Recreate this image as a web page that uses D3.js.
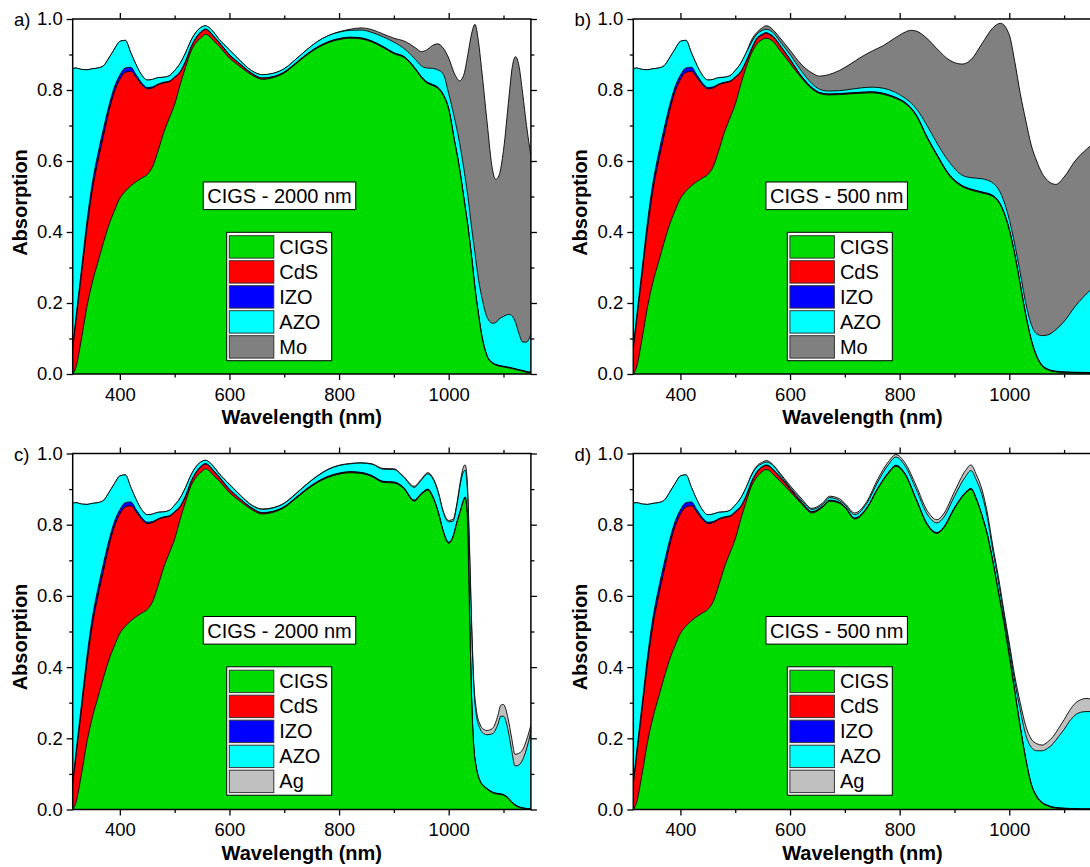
<!DOCTYPE html>
<html><head><meta charset="utf-8">
<script src="https://cdn.jsdelivr.net/npm/d3@7"></script>
<style>
body{margin:0;background:#fff}
svg{display:block}
text{font-family:"Liberation Sans",Arial,Helvetica,sans-serif;fill:#000}
</style>
</head><body>
<svg id="chart" width="1090" height="867"></svg>
<script>
// ---------- axis ticks ----------
const xTicksMajor = [400, 600, 800, 1000];
const xTicksMinor = [500, 700, 900, 1100];
const yTicksMajor = [0, 0.2, 0.4, 0.6, 0.8, 1.0];
const yTicksMinor = [0.1, 0.3, 0.5, 0.7, 0.9];
const xDomain = [314, 1150];

// ---------- layers ----------
const namesMo = ["CIGS", "CdS", "IZO", "AZO", "Mo"];
const namesAg = ["CIGS", "CdS", "IZO", "AZO", "Ag"];
const colorsMo = ["#00dc00", "#ff0000", "#0000ff", "#00ffff", "#808080"];
const colorsAg = ["#00dc00", "#ff0000", "#0000ff", "#00ffff", "#c0c0c0"];

// ---------- common UV part (cumulative tops of each layer) ----------
const frontWl   = [314, 320, 330, 340, 350, 360, 370, 380, 390, 400, 410, 420, 430, 440, 450, 460, 470, 480, 490, 500, 510, 520];
const frontCIGS = [0.0, 0.02, 0.1, 0.19, 0.26, 0.315, 0.37, 0.42, 0.46, 0.495, 0.515, 0.53, 0.542, 0.552, 0.562, 0.585, 0.63, 0.68, 0.72, 0.76, 0.815, 0.865];
const frontCdS  = [0.07, 0.15, 0.28, 0.41, 0.52, 0.6, 0.67, 0.74, 0.795, 0.83, 0.85, 0.853, 0.835, 0.815, 0.803, 0.806, 0.815, 0.82, 0.823, 0.835, 0.85, 0.88];
const frontIZO  = [0.075, 0.16, 0.295, 0.43, 0.54, 0.62, 0.69, 0.755, 0.808, 0.842, 0.862, 0.864, 0.842, 0.82, 0.807, 0.809, 0.817, 0.822, 0.825, 0.837, 0.852, 0.882];
const frontAZO  = [0.86, 0.862, 0.858, 0.857, 0.86, 0.862, 0.868, 0.89, 0.915, 0.937, 0.94, 0.905, 0.87, 0.842, 0.828, 0.83, 0.835, 0.836, 0.84, 0.855, 0.875, 0.905];
const frontBack = [0.86, 0.862, 0.858, 0.857, 0.86, 0.862, 0.868, 0.89, 0.915, 0.937, 0.94, 0.905, 0.87, 0.842, 0.828, 0.83, 0.835, 0.836, 0.84, 0.855, 0.875, 0.905];

// ---------- a) CIGS 2000 nm, Mo back contact ----------
const wlA   = [530, 540, 550, 556, 560, 570, 580, 600, 620, 640, 660, 680, 700, 720, 740, 760, 780, 800, 820, 840, 860, 880, 900, 920, 940, 950, 960, 970, 980, 990, 1000, 1010, 1020, 1028, 1035, 1042, 1048, 1054, 1060, 1070, 1080, 1086, 1092, 1100, 1110, 1116, 1122, 1128, 1135, 1142, 1150];
const cigsA = [0.91, 0.935, 0.95, 0.957, 0.955, 0.94, 0.925, 0.89, 0.865, 0.843, 0.83, 0.835, 0.848, 0.872, 0.897, 0.918, 0.933, 0.942, 0.946, 0.944, 0.935, 0.92, 0.902, 0.89, 0.856, 0.835, 0.82, 0.813, 0.805, 0.785, 0.745, 0.66, 0.575, 0.49, 0.415, 0.325, 0.24, 0.17, 0.11, 0.05, 0.03, 0.025, 0.022, 0.02, 0.017, 0.015, 0.013, 0.01, 0.008, 0.005, 0.003];
const cdsA  = [0.92, 0.948, 0.965, 0.97, 0.968, 0.952, 0.935, 0.898, 0.871, 0.847, 0.833, 0.837, 0.85, 0.874, 0.899, 0.92, 0.935, 0.944, 0.948, 0.946, 0.937, 0.922, 0.904, 0.892, 0.858, 0.837, 0.822, 0.815, 0.807, 0.787, 0.747, 0.662, 0.577, 0.492, 0.417, 0.327, 0.242, 0.172, 0.112, 0.051, 0.031, 0.026, 0.023, 0.021, 0.018, 0.016, 0.014, 0.011, 0.009, 0.006, 0.004];
const izoA  = [0.922, 0.95, 0.967, 0.972, 0.97, 0.954, 0.937, 0.9, 0.873, 0.848, 0.834, 0.838, 0.851, 0.875, 0.9, 0.921, 0.936, 0.945, 0.949, 0.947, 0.938, 0.923, 0.905, 0.893, 0.859, 0.838, 0.823, 0.816, 0.808, 0.788, 0.748, 0.663, 0.578, 0.493, 0.418, 0.328, 0.243, 0.173, 0.113, 0.052, 0.032, 0.027, 0.024, 0.022, 0.019, 0.017, 0.015, 0.012, 0.01, 0.007, 0.005];
const azoA  = [0.94, 0.965, 0.978, 0.981, 0.979, 0.965, 0.945, 0.913, 0.882, 0.855, 0.843, 0.847, 0.86, 0.885, 0.912, 0.936, 0.953, 0.963, 0.968, 0.969, 0.962, 0.95, 0.935, 0.915, 0.885, 0.868, 0.862, 0.861, 0.857, 0.845, 0.79, 0.725, 0.65, 0.575, 0.5, 0.41, 0.34, 0.27, 0.22, 0.16, 0.143, 0.145, 0.155, 0.162, 0.168, 0.163, 0.145, 0.115, 0.09, 0.09, 0.112];
const moA   = [0.94, 0.965, 0.978, 0.981, 0.979, 0.965, 0.945, 0.913, 0.882, 0.855, 0.843, 0.847, 0.86, 0.885, 0.912, 0.936, 0.953, 0.964, 0.971, 0.975, 0.97, 0.958, 0.946, 0.937, 0.918, 0.908, 0.913, 0.925, 0.93, 0.918, 0.89, 0.848, 0.826, 0.845, 0.9, 0.96, 0.985, 0.94, 0.86, 0.71, 0.575, 0.548, 0.56, 0.63, 0.78, 0.865, 0.894, 0.87, 0.79, 0.7, 0.615];

// ---------- b) CIGS 500 nm, Mo back contact ----------
const wlB   = [530, 540, 550, 556, 560, 570, 580, 600, 620, 640, 654, 670, 690, 710, 730, 750, 770, 790, 810, 820, 830, 850, 870, 890, 914, 930, 950, 970, 984, 1000, 1010, 1020, 1030, 1040, 1050, 1060, 1070, 1085, 1100, 1120, 1150];
const cigsB = [0.905, 0.93, 0.943, 0.946, 0.945, 0.935, 0.915, 0.875, 0.835, 0.803, 0.79, 0.786, 0.787, 0.789, 0.791, 0.792, 0.788, 0.778, 0.762, 0.748, 0.728, 0.665, 0.61, 0.56, 0.528, 0.518, 0.51, 0.5, 0.475, 0.405, 0.335, 0.25, 0.165, 0.095, 0.048, 0.022, 0.012, 0.006, 0.004, 0.003, 0.002];
const cdsB  = [0.915, 0.945, 0.955, 0.96, 0.958, 0.948, 0.928, 0.885, 0.84, 0.806, 0.792, 0.788, 0.789, 0.791, 0.793, 0.794, 0.79, 0.78, 0.764, 0.75, 0.73, 0.667, 0.612, 0.562, 0.53, 0.52, 0.512, 0.502, 0.477, 0.407, 0.337, 0.252, 0.167, 0.097, 0.05, 0.024, 0.013, 0.007, 0.005, 0.004, 0.003];
const izoB  = [0.918, 0.947, 0.958, 0.962, 0.96, 0.95, 0.93, 0.887, 0.841, 0.807, 0.793, 0.789, 0.79, 0.792, 0.794, 0.795, 0.791, 0.781, 0.765, 0.751, 0.731, 0.668, 0.613, 0.563, 0.531, 0.521, 0.513, 0.503, 0.478, 0.408, 0.338, 0.253, 0.168, 0.098, 0.051, 0.025, 0.014, 0.008, 0.006, 0.005, 0.004];
const azoB  = [0.935, 0.958, 0.968, 0.971, 0.97, 0.96, 0.94, 0.9, 0.855, 0.818, 0.802, 0.797, 0.798, 0.802, 0.806, 0.808, 0.805, 0.795, 0.777, 0.765, 0.748, 0.7, 0.645, 0.598, 0.56, 0.553, 0.55, 0.538, 0.51, 0.435, 0.365, 0.285, 0.2, 0.14, 0.113, 0.108, 0.11, 0.125, 0.148, 0.19, 0.24];
const moB   = [0.942, 0.963, 0.976, 0.981, 0.98, 0.968, 0.95, 0.912, 0.873, 0.848, 0.839, 0.843, 0.855, 0.873, 0.893, 0.91, 0.925, 0.945, 0.963, 0.968, 0.966, 0.945, 0.913, 0.885, 0.873, 0.885, 0.93, 0.975, 0.988, 0.955, 0.88, 0.79, 0.715, 0.645, 0.6, 0.565, 0.545, 0.534, 0.555, 0.6, 0.645];

// ---------- c) CIGS 2000 nm, Ag back contact ----------
const wlC   = [530, 540, 550, 556, 560, 570, 580, 600, 620, 640, 660, 680, 700, 720, 740, 760, 780, 800, 820, 840, 860, 880, 900, 917, 937, 950, 962, 970, 981, 990, 1000, 1008, 1015, 1022, 1026, 1030, 1034, 1038, 1042, 1046, 1050, 1057, 1064, 1070, 1080, 1090, 1095, 1100, 1108, 1115, 1121, 1128, 1135, 1142, 1150];
const cigsC = [0.91, 0.935, 0.95, 0.957, 0.955, 0.94, 0.925, 0.89, 0.865, 0.843, 0.83, 0.835, 0.848, 0.872, 0.897, 0.918, 0.933, 0.942, 0.946, 0.944, 0.935, 0.919, 0.917, 0.903, 0.866, 0.885, 0.897, 0.88, 0.833, 0.78, 0.748, 0.765, 0.805, 0.84, 0.862, 0.875, 0.82, 0.55, 0.3, 0.17, 0.12, 0.08, 0.065, 0.057, 0.047, 0.043, 0.042, 0.04, 0.032, 0.02, 0.012, 0.006, 0.003, 0.001, 0.0];
const cdsC  = [0.92, 0.948, 0.965, 0.97, 0.968, 0.952, 0.935, 0.898, 0.871, 0.847, 0.833, 0.837, 0.85, 0.874, 0.899, 0.92, 0.935, 0.944, 0.948, 0.946, 0.937, 0.921, 0.919, 0.905, 0.868, 0.887, 0.899, 0.882, 0.835, 0.782, 0.75, 0.767, 0.807, 0.842, 0.864, 0.877, 0.822, 0.552, 0.302, 0.171, 0.121, 0.081, 0.066, 0.058, 0.048, 0.044, 0.043, 0.041, 0.033, 0.021, 0.013, 0.007, 0.004, 0.002, 0.001];
const izoC  = [0.922, 0.95, 0.967, 0.972, 0.97, 0.954, 0.937, 0.9, 0.872, 0.848, 0.834, 0.838, 0.851, 0.875, 0.9, 0.921, 0.936, 0.945, 0.949, 0.947, 0.938, 0.922, 0.92, 0.906, 0.869, 0.888, 0.9, 0.883, 0.836, 0.783, 0.751, 0.768, 0.808, 0.843, 0.865, 0.878, 0.823, 0.553, 0.303, 0.172, 0.122, 0.082, 0.067, 0.059, 0.049, 0.045, 0.044, 0.042, 0.034, 0.022, 0.014, 0.008, 0.005, 0.003, 0.002];
const azoC  = [0.94, 0.965, 0.978, 0.981, 0.979, 0.965, 0.945, 0.913, 0.882, 0.855, 0.843, 0.847, 0.86, 0.885, 0.912, 0.936, 0.955, 0.966, 0.971, 0.973, 0.97, 0.956, 0.955, 0.935, 0.905, 0.925, 0.943, 0.932, 0.89, 0.835, 0.808, 0.81, 0.855, 0.92, 0.945, 0.953, 0.9, 0.72, 0.5, 0.34, 0.27, 0.228, 0.213, 0.21, 0.213, 0.24, 0.262, 0.262, 0.225, 0.165, 0.122, 0.125, 0.14, 0.17, 0.22];
const agC   = [0.94, 0.965, 0.978, 0.981, 0.979, 0.966, 0.946, 0.914, 0.883, 0.856, 0.844, 0.848, 0.861, 0.886, 0.913, 0.937, 0.956, 0.967, 0.972, 0.974, 0.971, 0.958, 0.957, 0.937, 0.908, 0.928, 0.946, 0.935, 0.893, 0.838, 0.812, 0.815, 0.86, 0.928, 0.958, 0.968, 0.92, 0.74, 0.52, 0.355, 0.285, 0.24, 0.225, 0.222, 0.228, 0.265, 0.293, 0.295, 0.258, 0.2, 0.155, 0.158, 0.168, 0.195, 0.237];

// ---------- d) CIGS 500 nm, Ag back contact ----------
const wlD   = [530, 540, 550, 556, 560, 570, 580, 600, 620, 640, 660, 672, 690, 700, 718, 740, 760, 780, 793, 810, 830, 850, 868, 880, 900, 920, 930, 940, 950, 960, 970, 980, 990, 1000, 1010, 1020, 1030, 1040, 1050, 1060, 1070, 1080, 1090, 1100, 1110, 1120, 1130, 1140, 1150];
const cigsD = [0.91, 0.935, 0.95, 0.955, 0.954, 0.94, 0.925, 0.893, 0.86, 0.833, 0.85, 0.866, 0.86, 0.848, 0.816, 0.845, 0.9, 0.945, 0.964, 0.94, 0.87, 0.8, 0.775, 0.79, 0.845, 0.888, 0.899, 0.87, 0.825, 0.77, 0.695, 0.61, 0.525, 0.43, 0.33, 0.23, 0.14, 0.07, 0.035, 0.018, 0.01, 0.005, 0.003, 0.002, 0.001, 0.001, 0.0, 0.0, 0.0];
const cdsD  = [0.92, 0.948, 0.962, 0.966, 0.965, 0.952, 0.936, 0.9, 0.864, 0.836, 0.852, 0.868, 0.862, 0.85, 0.818, 0.847, 0.902, 0.947, 0.966, 0.942, 0.872, 0.802, 0.777, 0.792, 0.847, 0.89, 0.901, 0.872, 0.827, 0.772, 0.697, 0.612, 0.527, 0.432, 0.332, 0.232, 0.142, 0.072, 0.037, 0.019, 0.011, 0.006, 0.004, 0.003, 0.002, 0.002, 0.001, 0.001, 0.001];
const izoD  = [0.922, 0.95, 0.964, 0.968, 0.967, 0.954, 0.938, 0.902, 0.865, 0.837, 0.853, 0.869, 0.863, 0.851, 0.819, 0.848, 0.903, 0.948, 0.967, 0.943, 0.873, 0.803, 0.778, 0.793, 0.848, 0.891, 0.902, 0.873, 0.828, 0.773, 0.698, 0.613, 0.528, 0.433, 0.333, 0.233, 0.143, 0.073, 0.038, 0.02, 0.012, 0.007, 0.005, 0.004, 0.003, 0.003, 0.002, 0.002, 0.002];
const azoD  = [0.94, 0.963, 0.972, 0.976, 0.975, 0.965, 0.945, 0.905, 0.87, 0.843, 0.858, 0.876, 0.868, 0.856, 0.828, 0.86, 0.92, 0.97, 0.99, 0.965, 0.9, 0.83, 0.805, 0.82, 0.88, 0.935, 0.952, 0.925, 0.885, 0.82, 0.728, 0.642, 0.547, 0.455, 0.36, 0.28, 0.21, 0.175, 0.165, 0.165, 0.172, 0.185, 0.205, 0.225, 0.248, 0.265, 0.273, 0.275, 0.275];
const agD   = [0.942, 0.966, 0.976, 0.98, 0.979, 0.967, 0.948, 0.91, 0.875, 0.846, 0.862, 0.88, 0.873, 0.86, 0.833, 0.865, 0.928, 0.978, 0.997, 0.973, 0.91, 0.84, 0.814, 0.83, 0.893, 0.952, 0.968, 0.94, 0.9, 0.833, 0.74, 0.655, 0.56, 0.468, 0.375, 0.3, 0.235, 0.198, 0.185, 0.181, 0.19, 0.205, 0.228, 0.252, 0.278, 0.298, 0.308, 0.312, 0.31];

// ---------- layout ----------
const plotW = 458.2;
const frontLayers = [frontCIGS, frontCdS, frontIZO, frontAZO, frontBack];
const panels = [
  {tag: "a)", left: 72.7,  top: 19,    h: 355, wl: wlA, layers: [cigsA, cdsA, izoA, azoA, moA], names: namesMo, colors: colorsMo, note: "CIGS - 2000 nm", noteCx: 206.8},
  {tag: "b)", left: 633.3, top: 19,    h: 355, wl: wlB, layers: [cigsB, cdsB, izoB, azoB, moB], names: namesMo, colors: colorsMo, note: "CIGS - 500 nm",  noteCx: 203.4},
  {tag: "c)", left: 72.7,  top: 453.5, h: 356, wl: wlC, layers: [cigsC, cdsC, izoC, azoC, agC], names: namesAg, colors: colorsAg, note: "CIGS - 2000 nm", noteCx: 206.8},
  {tag: "d)", left: 633.3, top: 453.5, h: 356, wl: wlD, layers: [cigsD, cdsD, izoD, azoD, agD], names: namesAg, colors: colorsAg, note: "CIGS - 500 nm",  noteCx: 203.4}
];

const svg = d3.select("#chart");
const TICK_FS = 18.5, TITLE_FS = 20;

panels.forEach((p, pi) => {
  const wl = frontWl.concat(p.wl);
  const tops = p.layers.map((arr, i) => frontLayers[i].concat(arr));
  tops.forEach(t => { if (t.length !== wl.length) throw new Error("length mismatch in panel " + p.tag + ": " + t.length + " vs " + wl.length); });

  const x = d3.scaleLinear().domain(xDomain).range([0, plotW]);
  const y = d3.scaleLinear().domain([0, 1]).range([p.h, 0]);
  const g = svg.append("g").attr("transform", `translate(${p.left},${p.top})`);

  const clipId = "clip" + pi;
  g.append("clipPath").attr("id", clipId).append("rect").attr("width", plotW).attr("height", p.h);
  const plot = g.append("g").attr("clip-path", `url(#${clipId})`);

  const area = d3.area().x(d => x(d[0])).y0(y(0)).y1(d => y(d[1])).curve(d3.curveMonotoneX);
  const line = d3.line().x(d => x(d[0])).y(d => y(d[1])).curve(d3.curveMonotoneX);

  for (let i = tops.length - 1; i >= 0; i--) {
    const pts = wl.map((w, j) => [w, tops[i][j]]);
    plot.append("path").datum(pts).attr("d", area).attr("fill", p.colors[i]).attr("stroke", "none");
    plot.append("path").datum(pts).attr("d", line).attr("fill", "none").attr("stroke", "#000").attr("stroke-width", 0.9);
  }

  // axes
  const fmtX = d3.format("d"), fmtY = d3.format(".1f");
  g.append("g").attr("transform", `translate(0,${p.h})`)
    .call(d3.axisBottom(x).tickValues(xTicksMajor).tickSize(6).tickPadding(7.5).tickFormat(fmtX));
  g.append("g").attr("transform", `translate(0,${p.h})`)
    .call(d3.axisBottom(x).tickValues(xTicksMinor).tickSize(3.5).tickFormat(""));
  g.append("g").call(d3.axisTop(x).tickValues(xTicksMajor).tickSize(6).tickFormat(""));
  g.append("g").call(d3.axisTop(x).tickValues(xTicksMinor).tickSize(3.5).tickFormat(""));
  g.append("g").call(d3.axisLeft(y).tickValues(yTicksMajor).tickSize(6).tickPadding(4).tickFormat(fmtY));
  g.append("g").call(d3.axisLeft(y).tickValues(yTicksMinor).tickSize(3.5).tickFormat(""));
  g.append("g").attr("transform", `translate(${plotW},0)`).call(d3.axisRight(y).tickValues(yTicksMajor).tickSize(6).tickFormat(""));
  g.append("g").attr("transform", `translate(${plotW},0)`).call(d3.axisRight(y).tickValues(yTicksMinor).tickSize(3.5).tickFormat(""));
  g.selectAll(".domain").remove();
  g.selectAll(".tick line").attr("stroke", "#000").attr("stroke-width", 1.3);
  g.selectAll(".tick text").attr("font-size", TICK_FS).attr("font-family", "Liberation Sans, Arial, sans-serif").attr("fill", "#000");

  g.append("rect").attr("width", plotW).attr("height", p.h)
    .attr("fill", "none").attr("stroke", "#000").attr("stroke-width", 1.5);

  // panel tag
  g.append("text").attr("x", -58.7).attr("y", 7).attr("font-size", TICK_FS).text(p.tag);

  // axis titles
  g.append("text").attr("x", plotW / 2).attr("y", p.h + 50)
    .attr("text-anchor", "middle").attr("font-size", TITLE_FS).attr("font-weight", "bold")
    .text("Wavelength (nm)");
  g.append("text").attr("transform", `translate(-46,183.5) rotate(-90)`)
    .attr("text-anchor", "middle").attr("font-size", TITLE_FS).attr("font-weight", "bold")
    .text("Absorption");

  // note box
  const ng = g.append("g");
  const noteRect = ng.append("rect");
  const noteText = ng.append("text").attr("x", p.noteCx).attr("y", 184.3)
    .attr("text-anchor", "middle").attr("font-size", TITLE_FS).text(p.note);
  const tw = noteText.node().getComputedTextLength();
  noteRect.attr("x", p.noteCx - tw / 2 - 4).attr("y", 163).attr("width", tw + 8).attr("height", 27.6)
    .attr("fill", "#fff").attr("stroke", "#000").attr("stroke-width", 1);

  // legend
  const lg = g.append("g").attr("transform", "translate(154,213.3)");
  lg.append("rect").attr("width", 105).attr("height", 128.4)
    .attr("fill", "#fff").attr("stroke", "#000").attr("stroke-width", 1);
  p.names.forEach((n, i) => {
    lg.append("rect").attr("x", 2.6).attr("y", 3.4 + i * 25).attr("width", 44.5).attr("height", 22.4)
      .attr("fill", p.colors[i]).attr("stroke", "#333").attr("stroke-width", 1);
    lg.append("text").attr("x", 52.6).attr("y", 3.4 + i * 25 + 11.2 + 7)
      .attr("font-size", TITLE_FS).text(n);
  });
});
</script>
</body></html>
